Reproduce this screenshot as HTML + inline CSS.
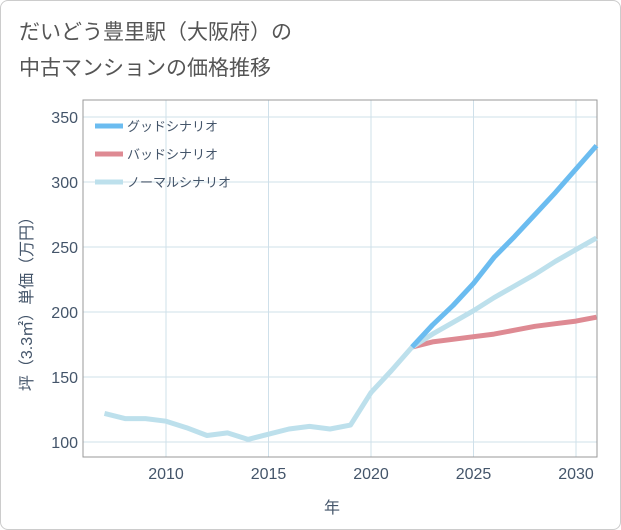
<!DOCTYPE html>
<html><head><meta charset="utf-8"><style>
body{margin:0;background:#fff;}
#wrap{width:619px;height:528px;border:1px solid #ccc;border-radius:8px;position:relative;overflow:hidden;font-family:"Liberation Sans","Noto Sans CJK JP",sans-serif;}
#title{position:absolute;left:18px;top:14px;font-size:21px;line-height:36px;color:#555;}
</style></head><body>
<div id="wrap">
<div id="title">だいどう豊里駅（大阪府）の<br>中古マンションの価格推移</div>
<svg id="chart" width="621" height="530" style="position:absolute;left:-1px;top:-1px"></svg>
</div>
<script>
const histYears=[2007,2008,2009,2010,2011,2012,2013,2014,2015,2016,2017,2018,2019,2020,2021,2022];
const histVals=[122,118,118,116,111,105,107,102,106,110,112,110,113,138,155,173];
const futYears=[2022,2023,2024,2025,2026,2027,2028,2029,2030,2031];
const goodVals=[173,190,205,222,242,258,275,292,310,328];
const normalVals=[173,183,192,201,211,220,229,239,248,257];
const badVals=[173,177,179,181,183,186,189,191,193,196];
const xTicks=[2010,2015,2020,2025,2030];
const yTicks=[100,150,200,250,300,350];
const legendLabels=["グッドシナリオ","バッドシナリオ","ノーマルシナリオ"];
const NS="http://www.w3.org/2000/svg";
const svg=document.getElementById('chart');
const L=83,R=597,T=100,B=457;
const x=v=>166+(v-2010)*20.5;
const y=v=>442-(v-100)*1.3;
function mk(t,a){const e=document.createElementNS(NS,t);for(const k in a)e.setAttribute(k,a[k]);svg.appendChild(e);return e;}
xTicks.forEach(t=>{const l=mk('line',{x1:x(t),x2:x(t),y1:T,y2:B,stroke:'#cfe0ea','stroke-width':1});


const s=mk('text',{x:x(t),y:479,'text-anchor':'middle','font-size':16,fill:'#44556a'});s.textContent=t;

});
yTicks.forEach(t=>{const l=mk('line',{x1:L,x2:R,y1:y(t),y2:y(t),stroke:'#cfe0ea','stroke-width':1});


const s=mk('text',{x:78,y:y(t)+6,'text-anchor':'end','font-size':16,fill:'#44556a'});s.textContent=t;

});
const fr=mk('rect',{x:L,y:T,width:R-L,height:B-T,fill:'none',stroke:'#999','stroke-width':1});


function line(xs,vs,c,n){const p=mk('polyline',{points:xs.map((a,i)=>x(a)+','+y(vs[i])).join(' '),fill:'none',stroke:c,'stroke-width':5,'stroke-linejoin':'round'});

}
line(futYears,badVals,'#de8a93','bad-scenario-line');
line(futYears,normalVals,'#bde0ec','normal-scenario-line');
line(futYears,goodVals,'#6bbcf0','good-scenario-line');
line(histYears,histVals,'#bde0ec','history-line');
const cols=['#6bbcf0','#de8a93','#bde0ec'];
legendLabels.forEach((t,i)=>{const yy=126+i*28;
const l=mk('line',{x1:95,x2:123,y1:yy,y2:yy,stroke:cols[i],'stroke-width':5});


const s=mk('text',{x:127,y:yy+5,'font-size':13,fill:'#44556a'});s.textContent=t;

});
const xt=mk('text',{x:332,y:513,'text-anchor':'middle','font-size':16,fill:'#44556a'});xt.textContent='年';


const yt=mk('text',{x:0,y:0,'text-anchor':'middle','font-size':16,fill:'#44556a',transform:'translate(32,300) rotate(-90)'});yt.textContent='坪（3.3㎡）単価（万円）';


</script>
</body></html>
